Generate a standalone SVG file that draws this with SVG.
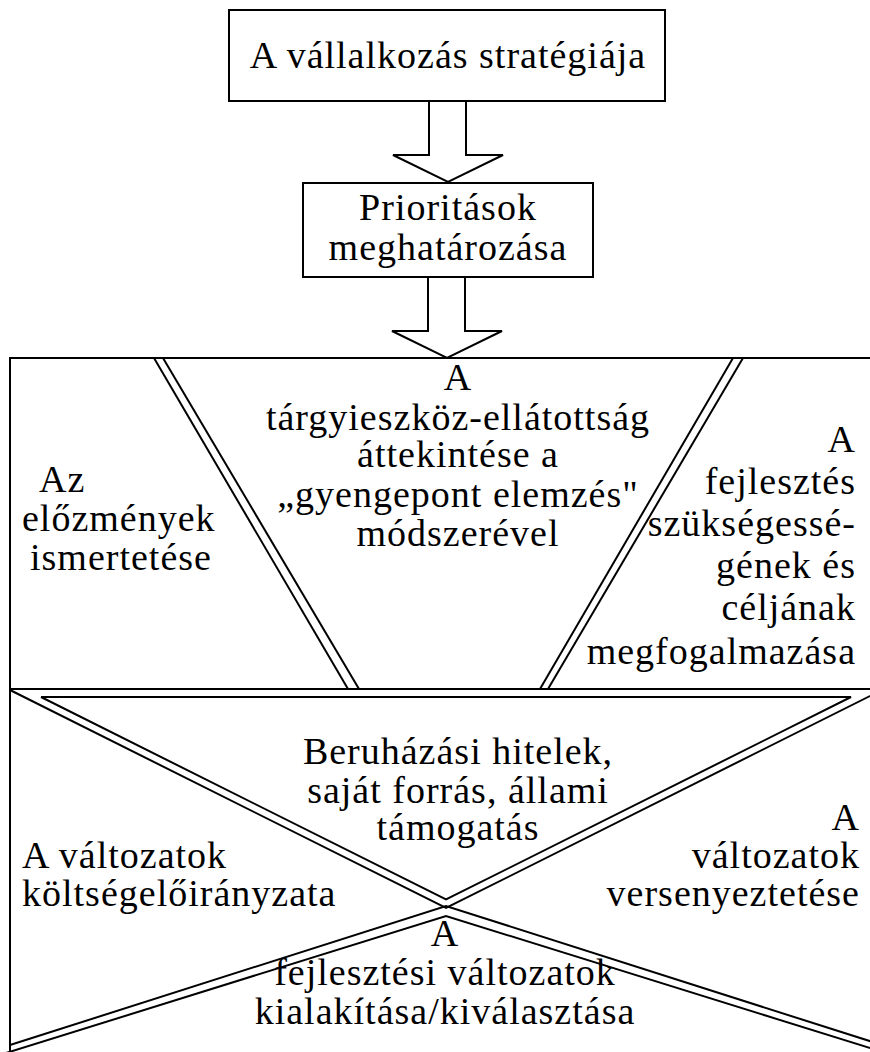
<svg xmlns="http://www.w3.org/2000/svg" width="870" height="1052" viewBox="0 0 870 1052">
  <style>
    .box { fill: #fff; stroke: #000; stroke-width: 2; }
    .ln { fill: none; stroke: #000; stroke-width: 2; }
    .arrow { fill: #fff; stroke: #000; stroke-width: 2; stroke-linejoin: miter; }
    text { font-family: "Liberation Serif", "Times New Roman", serif; font-size: 38px; fill: #000; letter-spacing: 1px; }
    .c { text-anchor: middle; }
    .r { text-anchor: end; }
  </style>
  <rect width="870" height="1052" fill="#fff"/>

  <!-- top box -->
  <g id="strategy">
    <rect class="box" x="229" y="10" width="436" height="91"/>
    <text class="c" x="448" y="68">A vállalkozás stratégiája</text>
  </g>

  <!-- priorities box -->
  <g id="priorities">
    <rect class="box" x="303" y="183" width="290" height="94"/>
    <text class="c" x="448" y="220">Prioritások</text>
    <text class="c" x="448" y="260">meghatározása</text>
  </g>

  <!-- block arrows -->
  <g id="connectors">
    <polygon class="arrow" points="429,101 466,101 466,155 503,155 448,182 393,155 429,155"/>
    <polygon class="arrow" points="428,277 465,277 465,331 502,331 447,358 392,331 428,331"/>
  </g>

  <!-- analysis frame: outer border, trapezoid and bow-tie dividers -->
  <g id="frame">
    <polyline class="ln" points="10,1052 10,358 880,358"/>
    <line class="ln" x1="10" y1="689" x2="880" y2="689"/>
    <!-- trapezoid double lines -->
    <line class="ln" x1="154" y1="358" x2="348" y2="689"/>
    <line class="ln" x1="163" y1="358" x2="359" y2="689"/>
    <line class="ln" x1="743" y1="358" x2="548" y2="689"/>
    <line class="ln" x1="733" y1="358" x2="540" y2="689"/>
    <!-- upper triangle of the bow-tie -->
    <polyline class="ln" points="10,690 446,908 882,690"/>
    <polyline class="ln" points="41,697 851,697 446,899.5 41,697"/>
    <!-- lower triangle of the bow-tie -->
    <polyline class="ln" points="10,1045 446,906 882,1045"/>
    <polyline class="ln" points="-10,1058 446,916 902,1058"/>
  </g>

  <g id="history">
    <text x="39" y="492" letter-spacing="4">Az</text>
    <text x="22" y="531">előzmények</text>
    <text x="30" y="570">ismertetése</text>
  </g>

  <g id="assets">
    <text class="c" x="458" y="390">A</text>
    <text class="c" x="458" y="430">tárgyieszköz-ellátottság</text>
    <text class="c" x="458" y="467">áttekintése a</text>
    <text class="c" x="458" y="507">„gyengepont elemzés"</text>
    <text class="c" x="458" y="546">módszerével</text>
  </g>

  <g id="goals">
    <text class="r" x="856" y="452">A</text>
    <text class="r" x="856" y="494">fejlesztés</text>
    <text class="r" x="856" y="536">szükségessé-</text>
    <text class="r" x="856" y="578">gének és</text>
    <text class="r" x="856" y="620">céljának</text>
    <text class="r" x="856" y="664">megfogalmazása</text>
  </g>

  <g id="funding">
    <text class="c" x="458" y="764">Beruházási hitelek,</text>
    <text class="c" x="458" y="803">saját forrás, állami</text>
    <text class="c" x="458" y="840">támogatás</text>
  </g>

  <g id="costs">
    <text x="22" y="868">A változatok</text>
    <text x="22" y="906">költségelőirányzata</text>
  </g>

  <g id="competition">
    <text class="r" x="860" y="830">A</text>
    <text class="r" x="860" y="868">változatok</text>
    <text class="r" x="860" y="906">versenyeztetése</text>
  </g>

  <g id="variants">
    <text class="c" x="445" y="946">A</text>
    <text class="c" x="445" y="985">fejlesztési változatok</text>
    <text class="c" x="445" y="1024">kialakítása/kiválasztása</text>
  </g>
</svg>
